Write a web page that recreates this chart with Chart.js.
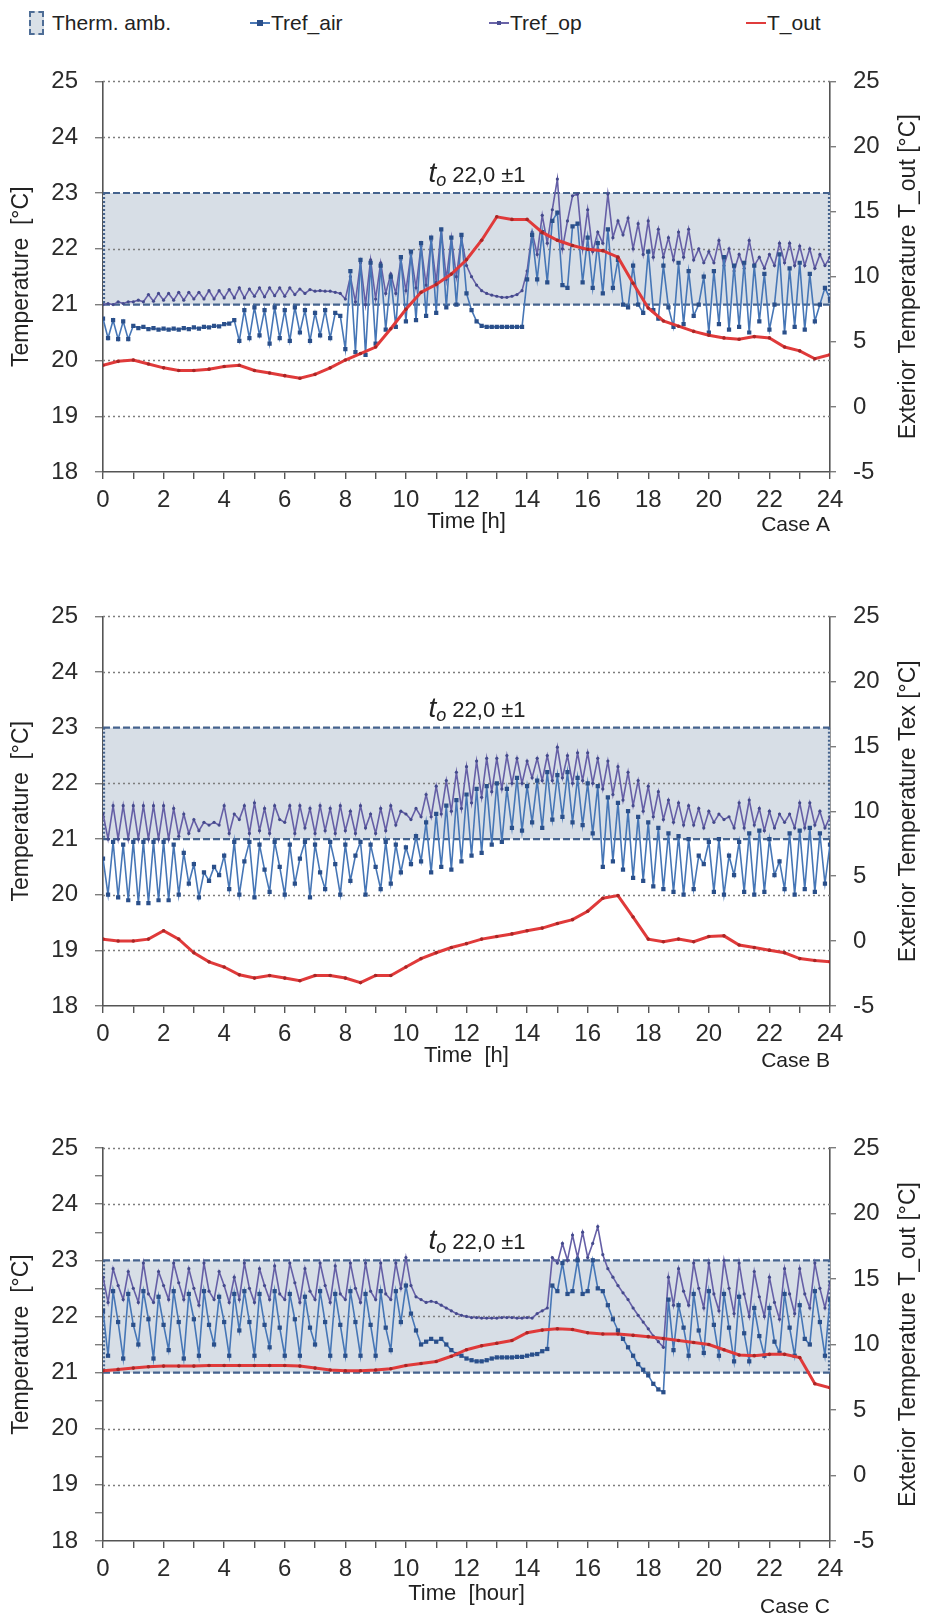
<!DOCTYPE html>
<html>
<head>
<meta charset="utf-8">
<script src="https://cdn.jsdelivr.net/npm/chart.js@4.4.1/dist/chart.umd.min.js"></script>
<style>
  html, body { margin: 0; padding: 0; background: #fff; }
  #page { position: relative; width: 925px; height: 1620px; overflow: hidden;
          font-family: "Liberation Sans", Arial, sans-serif; color: #222; }
  #page canvas { position: absolute; left: 0; }
  .leg-text { position: absolute; top: 10px; font-size: 21px; line-height: 26px; white-space: nowrap; }
  .leg-box { position: absolute; left: 29px; top: 11px; width: 11px; height: 20px;
             background: #d9e0e7; border: 2px dashed #4e6d96; }
  .leg-line { position: absolute; top: 22px; width: 20px; height: 2px; }
  .leg-mark { position: absolute; }
</style>
</head>
<body>
<div id="page">
  <div class="leg-box"></div>
  <div class="leg-text" style="left:52px">Therm. amb.</div>

  <div class="leg-line" style="left:250px;background:#4a78b5"></div>
  <div class="leg-mark" style="left:257px;top:20px;width:6px;height:6px;background:#2a4f8a"></div>
  <div class="leg-text" style="left:271px">Tref_air</div>

  <div class="leg-line" style="left:489px;background:#6a64a8"></div>
  <div class="leg-mark" style="left:497px;top:21px;width:4px;height:4px;background:#4b4f93"></div>
  <div class="leg-text" style="left:510px">Tref_op</div>

  <div class="leg-line" style="left:746px;background:#e03c3c"></div>
  <div class="leg-text" style="left:767px">T_out</div>

  <canvas id="chartA"></canvas>
  <canvas id="chartB"></canvas>
  <canvas id="chartC"></canvas>
</div>

<script>
// Tref series: one reading every 10 minutes (6 per hour, 0..24 h)
const STEP_H = 10 / 60;
// T_out: read every half hour
const OUT_STEP_H = 0.5;

// ---------- Case A ----------
const airA = [
  20.75, 20.4, 20.72, 20.38, 20.7, 20.38,
  20.62, 20.58, 20.6, 20.56, 20.58, 20.55,
  20.57, 20.55, 20.57, 20.55, 20.58, 20.56,
  20.59, 20.57, 20.6, 20.59, 20.62, 20.61,
  20.65, 20.66, 20.72, 20.35, 20.9, 20.4,
  20.95, 20.45, 20.9, 20.3, 20.95, 20.4,
  20.9, 20.35, 20.95, 20.5, 20.9, 20.35,
  20.85, 20.45, 20.9, 20.4, 20.85, 20.8,
  20.2, 21.6, 20.15, 21.8, 20.1, 21.75,
  20.3, 21.7, 20.55, 21.5, 20.6, 21.85,
  20.7, 21.95, 20.72, 22.1, 20.8, 22.2,
  20.85, 22.35, 20.95, 22.2, 21.0, 22.25,
  21.2, 20.9, 20.7, 20.62, 20.6, 20.6,
  20.6, 20.6, 20.6, 20.6, 20.6, 20.6,
  21.45, 22.25, 21.45, 22.3, 21.4, 22.5,
  22.65, 21.35, 21.3, 22.4, 22.45, 21.4,
  22.2, 21.3, 22.1, 21.2, 22.35, 21.3,
  21.8, 21.0, 20.95, 21.7, 21.0, 20.85,
  21.95, 20.9, 20.75, 21.7, 20.95, 20.6,
  21.75, 20.65, 21.6, 20.8, 21.0, 21.5,
  20.5, 21.6, 20.65, 21.85, 20.55, 21.7,
  20.6, 21.75, 20.5, 21.7, 20.7, 21.55,
  20.55, 21.0, 21.9, 20.5, 21.65, 20.6,
  21.75, 20.55, 21.55, 20.7, 21.0, 21.3,
  21.1
];
const opA = [
  21.0, 21.02, 21.0, 21.05, 21.02, 21.05,
  21.05, 21.08, 21.05, 21.18, 21.06, 21.2,
  21.08, 21.2, 21.08, 21.22, 21.08, 21.22,
  21.1, 21.22, 21.1, 21.25, 21.1, 21.25,
  21.12, 21.27, 21.12, 21.3, 21.12, 21.28,
  21.15, 21.3, 21.14, 21.3, 21.16, 21.3,
  21.15, 21.3, 21.18, 21.28, 21.2, 21.27,
  21.24, 21.25, 21.24, 21.24, 21.22, 21.2,
  21.1, 21.5, 21.05, 21.75, 21.0, 21.8,
  21.1, 21.75, 21.2, 21.55, 21.2, 21.8,
  21.25, 21.9, 21.3, 22.05, 21.35, 22.15,
  21.4, 22.35, 21.45, 22.2, 21.5, 22.2,
  21.7, 21.5, 21.35, 21.25, 21.2, 21.17,
  21.15, 21.13, 21.13, 21.15, 21.18, 21.25,
  21.6, 22.3, 21.9, 22.6, 22.1, 22.7,
  23.25, 22.0, 22.5, 22.95, 22.98, 22.0,
  22.7, 21.95, 22.3, 22.1, 22.98, 22.2,
  22.5, 22.25, 22.55, 22.0, 22.45, 21.9,
  22.5, 21.85, 22.35, 21.85, 22.2, 21.8,
  22.3, 21.85, 22.35, 21.8, 22.0, 21.75,
  21.95, 21.75, 22.15, 21.7, 22.0, 21.6,
  21.9, 21.65, 22.15, 21.7, 21.85, 21.65,
  21.9, 21.7, 22.1, 21.75, 22.1, 21.7,
  22.05, 21.7, 22.0, 21.65, 21.9, 21.7,
  21.85
];
const outA = [
  3.2, 3.5, 3.6, 3.3, 3.0, 2.8, 2.8, 2.9, 3.1, 3.2,
  2.8, 2.6, 2.4, 2.2, 2.5, 3.0, 3.6, 4.1, 4.6, 6.0,
  7.5, 8.8, 9.4, 10.2, 11.3, 12.8, 14.6, 14.4, 14.4, 13.4,
  12.8, 12.4, 12.1, 12.0, 11.5, 9.5, 7.6, 6.6, 6.2, 5.8,
  5.5, 5.3, 5.2, 5.4, 5.3, 4.6, 4.3, 3.7, 4.0
];

// ---------- Case B ----------
const airB = [
  20.65, 20.0, 20.95, 19.95, 20.9, 19.9,
  20.95, 19.85, 20.95, 19.85, 20.95, 19.9,
  20.95, 19.9, 20.9, 20.0, 20.75, 20.2,
  20.55, 19.95, 20.4, 20.25, 20.5, 20.35,
  20.7, 20.1, 20.95, 20.0, 20.6, 20.95,
  19.95, 20.9, 20.45, 20.05, 20.95, 20.5,
  20.0, 20.9, 20.2, 20.65, 20.95, 19.95,
  20.9, 20.4, 20.1, 20.95, 20.55, 20.0,
  20.9, 20.25, 20.7, 20.95, 20.0, 20.9,
  20.5, 20.1, 20.95, 20.2, 20.9, 20.4,
  20.85, 20.55, 21.05, 20.6, 21.3, 20.4,
  21.45, 20.5, 21.6, 20.45, 21.7, 20.6,
  21.8, 20.7, 21.9, 20.75, 21.95, 20.9,
  22.0, 20.95, 21.9, 21.2, 22.1, 21.15,
  21.95, 21.3, 22.05, 21.2, 22.2, 21.35,
  22.15, 21.4, 22.2, 21.3, 22.1, 21.25,
  22.0, 21.1, 21.95, 20.5, 21.75, 20.6,
  21.65, 20.45, 21.5, 20.3, 21.4, 20.25,
  21.3, 20.15, 21.2, 20.1, 21.1, 20.05,
  21.05, 20.0, 21.0, 20.1, 20.7, 20.55,
  20.95, 20.05, 21.0, 20.0, 20.7, 20.35,
  20.95, 20.05, 21.1, 20.0, 21.15, 20.05,
  21.0, 20.35, 20.6, 20.1, 21.1, 20.0,
  21.15, 20.1, 21.2, 20.05, 21.1, 20.2,
  20.9
];
const opB = [
  21.45, 21.0, 21.6, 21.0, 21.6, 21.0,
  21.6, 21.0, 21.6, 21.0, 21.6, 21.0,
  21.6, 21.0, 21.55, 21.05, 21.45, 21.1,
  21.35, 21.15, 21.3, 21.25, 21.3, 21.25,
  21.6, 21.1, 21.45, 21.35, 21.6, 21.1,
  21.65, 21.15, 21.55, 21.1, 21.6, 21.35,
  21.3, 21.6, 21.1, 21.6, 21.2, 21.55,
  21.1, 21.6, 21.15, 21.55, 21.1, 21.6,
  21.15, 21.5, 21.1, 21.6, 21.2, 21.45,
  21.1, 21.55, 21.15, 21.6, 21.25, 21.5,
  21.45, 21.35, 21.55, 21.4, 21.8, 21.4,
  21.95, 21.45, 22.05, 21.5, 22.2, 21.55,
  22.3, 21.65, 22.4, 21.75, 22.45, 21.85,
  22.45, 21.9, 22.5, 22.0, 22.45, 22.0,
  22.4, 22.1, 22.45, 22.05, 22.5, 22.05,
  22.65, 22.1, 22.5, 22.0, 22.55, 22.05,
  22.55, 22.0, 22.45, 21.9, 22.4, 21.8,
  22.3, 21.7, 22.2, 21.6, 22.05, 21.5,
  21.95, 21.4, 21.85, 21.35, 21.7, 21.3,
  21.65, 21.25, 21.6, 21.25, 21.55, 21.2,
  21.5, 21.3, 21.45, 21.35, 21.4, 21.2,
  21.65, 21.2, 21.7, 21.25, 21.55, 21.15,
  21.5, 21.2, 21.45, 21.3, 21.45, 21.2,
  21.65, 21.2, 21.65, 21.25, 21.5, 21.2,
  21.4
];
const outB = [
  0.15, 0.0, 0.0, 0.15, 0.8, 0.15, -0.9, -1.6, -2.0, -2.6,
  -2.85, -2.65, -2.85, -3.05, -2.65, -2.65, -2.85, -3.2, -2.65, -2.65,
  -2.0, -1.35, -0.9, -0.5, -0.2, 0.15, 0.35, 0.55, 0.8, 1.0,
  1.35, 1.65, 2.3, 3.3, 3.5, 1.85, 0.15, -0.05, 0.15, -0.05,
  0.35, 0.4, -0.3, -0.5, -0.7, -0.9, -1.35, -1.5, -1.6
];

// ---------- Case C ----------
const airC = [
  22.1, 21.3, 22.45, 21.9, 21.25, 22.4,
  21.85, 21.5, 22.45, 21.95, 21.25, 22.35,
  21.85, 21.4, 22.45, 21.9, 21.25, 22.4,
  21.95, 21.3, 22.45, 21.85, 21.5, 22.35,
  21.9, 21.3, 22.4, 21.75, 22.45, 21.9,
  21.3, 22.4, 21.85, 21.45, 22.45, 21.8,
  21.3, 22.4, 21.95, 21.3, 22.35, 21.8,
  21.5, 22.45, 21.9, 21.3, 22.4, 21.85,
  21.3, 22.45, 21.9, 21.3, 22.4, 21.85,
  21.3, 22.45, 21.8, 21.4, 22.45, 21.9,
  22.55, 22.05, 21.75, 21.5, 21.55, 21.6,
  21.55, 21.6, 21.5, 21.4, 21.33, 21.3,
  21.25, 21.22, 21.2, 21.2, 21.22, 21.25,
  21.27, 21.27, 21.27, 21.27, 21.28, 21.28,
  21.3, 21.32, 21.33, 21.38, 21.42, 22.55,
  22.45, 22.95, 22.4, 22.45, 23.0, 22.4,
  22.45, 23.0, 22.5, 22.45, 22.2, 21.95,
  21.75, 21.6, 21.45, 21.3, 21.15, 21.05,
  20.95, 20.8, 20.7, 20.65, 22.3, 21.4,
  22.2, 21.8, 21.3, 22.4, 21.75, 21.35,
  22.45, 21.85, 21.3, 22.4, 21.8, 21.2,
  22.35, 21.7, 21.2, 22.15, 21.65, 21.3,
  22.15, 21.55, 21.35, 22.4, 21.8, 21.3,
  22.2, 21.6, 21.5, 22.45, 21.9, 21.3,
  22.3
];
const opC = [
  22.7, 22.25, 22.85, 22.55, 22.3, 22.8,
  22.5, 22.25, 22.95, 22.4, 22.25, 22.8,
  22.55, 22.3, 22.95, 22.6, 22.3, 22.85,
  22.5, 22.2, 22.95, 22.45, 22.3, 22.8,
  22.55, 22.25, 22.7, 22.3, 22.95, 22.5,
  22.25, 22.85, 22.55, 22.3, 22.9, 22.4,
  22.3, 22.95, 22.6, 22.25, 22.85, 22.45,
  22.3, 22.95, 22.55, 22.25, 22.9, 22.4,
  22.3, 22.95, 22.5, 22.25, 22.95, 22.45,
  22.3, 22.95, 22.4, 22.3, 22.95, 22.5,
  23.05, 22.55, 22.35, 22.3, 22.25, 22.27,
  22.25, 22.2, 22.15, 22.1, 22.05, 22.02,
  22.0, 21.98, 21.98, 21.97, 21.97, 21.97,
  21.97, 21.98, 21.98, 21.98, 21.97, 21.97,
  21.98, 21.97, 22.05, 22.1, 22.15, 23.05,
  22.95, 23.3, 23.0, 23.45, 23.05, 23.5,
  23.05, 23.3, 23.6, 23.1, 22.85, 22.7,
  22.55, 22.42, 22.3, 22.15, 22.02, 21.9,
  21.78, 21.65, 21.55, 21.45, 22.7, 22.2,
  22.85, 22.45, 22.2, 22.95, 22.5, 22.15,
  22.95, 22.4, 22.1, 23.0, 22.5, 22.05,
  22.95, 22.4, 22.0, 22.8, 22.35, 22.0,
  22.7, 22.25, 21.95, 22.85, 22.4, 22.05,
  22.85, 22.4, 22.15, 22.95, 22.5, 22.15,
  22.6
];
const outC = [
  8.0, 8.1, 8.2, 8.3, 8.35, 8.35, 8.35, 8.4, 8.4, 8.4,
  8.4, 8.4, 8.4, 8.35, 8.2, 8.05, 8.0, 8.0, 8.05, 8.15,
  8.4, 8.55, 8.7, 9.1, 9.6, 9.9, 10.1, 10.3, 10.9, 11.1,
  11.2, 11.15, 10.9, 10.8, 10.8, 10.7, 10.6, 10.45, 10.3, 10.15,
  10.0, 9.6, 9.2, 9.15, 9.25, 9.25, 9.0, 7.0, 6.7
];

// comfort band and axis ranges
const bandLow = 21, bandHigh = 23;
const gridLevels = [19, 20, 22, 24, 25];
const rightMin = -5, rightMax = 25;
const bandLabel = "22,0 ±1";

const FONT = '"Liberation Sans", Arial, sans-serif';
const TICK_COLOR = "#2b2b2b";
const AXIS_COLOR = "#555";

function series(values, step) {
  return values.map((v, i) => ({ x: i * step, y: v }));
}

// comfort band + dotted grid, under the lines
const bandPlugin = {
  id: "bandPlugin",
  beforeDatasetsDraw(chart) {
    const { ctx, chartArea: a, scales } = chart;
    const yTop = scales.y.getPixelForValue(bandHigh);
    const yBot = scales.y.getPixelForValue(bandLow);
    ctx.save();
    ctx.fillStyle = "#d7dee6";
    ctx.fillRect(a.left, yTop, a.right - a.left, yBot - yTop);

    ctx.strokeStyle = "#7d7d7d";
    ctx.lineWidth = 1.5;
    ctx.setLineDash([2, 3]);
    gridLevels.forEach((t) => {
      const y = Math.round(scales.y.getPixelForValue(t)) + 0.5;
      ctx.beginPath();
      ctx.moveTo(a.left, y);
      ctx.lineTo(a.right, y);
      ctx.stroke();
    });

    ctx.strokeStyle = "#45638e";
    ctx.lineWidth = 2.2;
    ctx.setLineDash([7, 3]);
    [yTop, yBot].forEach((y) => {
      ctx.beginPath();
      ctx.moveTo(a.left, y);
      ctx.lineTo(a.right, y);
      ctx.stroke();
    });
    ctx.setLineDash([2, 2]);
    [a.left + 1, a.right - 1].forEach((x) => {
      ctx.beginPath();
      ctx.moveTo(x, yTop);
      ctx.lineTo(x, yBot);
      ctx.stroke();
    });
    ctx.restore();
  },
};

// axis titles, case label and band note
const textPlugin = {
  id: "frameText",
  afterDraw(chart, args, opts) {
    const { ctx, chartArea: a, scales } = chart;
    const mid = (a.top + a.bottom) / 2;
    ctx.save();
    ctx.fillStyle = "#222";
    ctx.textBaseline = "middle";
    ctx.textAlign = "center";
    ctx.font = `23px ${FONT}`;

    ctx.save();
    ctx.translate(22, mid);
    ctx.rotate(-Math.PI / 2);
    ctx.fillText("Temperature  [°C]", 0, 0);
    ctx.restore();

    ctx.save();
    ctx.translate(909, mid);
    ctx.rotate(-Math.PI / 2);
    ctx.fillText(opts.rightTitle, 0, 0);
    ctx.restore();

    ctx.font = `22px ${FONT}`;
    ctx.fillText(opts.xTitle, (a.left + a.right) / 2, a.bottom + opts.xTitleGap);
    ctx.textAlign = "right";
    ctx.font = `21px ${FONT}`;
    ctx.fillText(opts.caseLabel, a.right, a.bottom + opts.caseGap);

    // "t_o 22,0 ±1" just above the band
    const yNote = scales.y.getPixelForValue(bandHigh + 0.32);
    ctx.textAlign = "left";
    ctx.font = `italic 28px ${FONT}`;
    const wT = ctx.measureText("t").width;
    ctx.font = `italic 18px ${FONT}`;
    const wO = ctx.measureText("o").width;
    ctx.font = `22px ${FONT}`;
    const wRest = ctx.measureText(" " + bandLabel).width;
    let x = 477 - (wT + wO + wRest) / 2;
    ctx.font = `italic 28px ${FONT}`;
    ctx.fillText("t", x, yNote - 1);
    x += wT;
    ctx.font = `italic 18px ${FONT}`;
    ctx.fillText("o", x, yNote + 6);
    x += wO;
    ctx.font = `22px ${FONT}`;
    ctx.fillText(" " + bandLabel, x, yNote + 1);
    ctx.restore();
  },
};

function makeChart(cfg) {
  const canvas = document.getElementById(cfg.id);
  canvas.width = 925;
  canvas.height = cfg.height;
  canvas.style.top = cfg.top + "px";
  canvas.style.width = "925px";
  canvas.style.height = cfg.height + "px";

  const tickFont = { family: FONT, size: 24 };

  return new Chart(canvas.getContext("2d"), {
    type: "line",
    data: {
      datasets: [
        {
          label: "T_out",
          data: series(cfg.out, OUT_STEP_H),
          yAxisID: "y1",
          borderColor: "#e03a3a",
          borderWidth: 3,
          pointRadius: 1.8,
          pointBackgroundColor: "#a82626",
          pointBorderWidth: 0,
          tension: 0,
        },
        {
          label: "Tref_air",
          data: series(cfg.air, STEP_H),
          yAxisID: "y",
          borderColor: "#4676b6",
          borderWidth: 1.6,
          pointStyle: "rect",
          pointRadius: 3,
          pointBackgroundColor: "#2a4f8a",
          pointBorderWidth: 0,
          tension: 0,
        },
        {
          label: "Tref_op",
          data: series(cfg.op, STEP_H),
          yAxisID: "y",
          borderColor: "#655fa6",
          borderWidth: 1.6,
          pointRadius: 1.6,
          pointBackgroundColor: "#444a8c",
          pointBorderWidth: 0,
          tension: 0,
        },
      ],
    },
    plugins: [bandPlugin, textPlugin],
    options: {
      responsive: false,
      animation: false,
      devicePixelRatio: 1,
      events: [],
      layout: { padding: { top: cfg.plotTop, left: 0, right: 0, bottom: 0 } },
      plugins: {
        legend: { display: false },
        tooltip: { enabled: false },
        frameText: {
          rightTitle: cfg.rightTitle,
          xTitle: cfg.xTitle,
          caseLabel: cfg.caseLabel,
          xTitleGap: cfg.xTitleGap,
          caseGap: cfg.caseGap,
        },
      },
      scales: {
        x: {
          type: "linear",
          min: 0,
          max: 24,
          afterFit(s) { s.height = cfg.height - cfg.plotBottom; },
          ticks: {
            stepSize: 1,
            autoSkip: false,
            maxRotation: 0,
            padding: 7,
            color: TICK_COLOR,
            font: tickFont,
            callback: (v) => (v % 2 === 0 ? String(v) : ""),
          },
          grid: { drawOnChartArea: false, drawTicks: true, tickLength: 7, color: AXIS_COLOR, lineWidth: 1.4 },
          border: { display: true, color: AXIS_COLOR, width: 1.6 },
        },
        y: {
          position: "left",
          min: 18,
          max: 25,
          afterFit(s) { s.width = 103; },
          ticks: {
            stepSize: cfg.halfTicks ? 0.5 : 1,
            autoSkip: false,
            padding: 17,
            color: TICK_COLOR,
            font: tickFont,
            callback: (v) => (Number.isInteger(v) ? String(v) : ""),
          },
          grid: { drawOnChartArea: false, drawTicks: true, tickLength: 8, color: "#7d7d7d", lineWidth: 1.4 },
          border: { display: true, color: AXIS_COLOR, width: 1.6 },
        },
        y1: {
          position: "right",
          min: rightMin,
          max: rightMax,
          afterFit(s) { s.width = 95; },
          ticks: { stepSize: 5, padding: 17, color: TICK_COLOR, font: tickFont },
          grid: { drawOnChartArea: false, drawTicks: true, tickLength: 6, color: "#7d7d7d", lineWidth: 1.4 },
          border: { display: true, color: AXIS_COLOR, width: 1.6 },
        },
      },
    },
  });
}

makeChart({
  id: "chartA", top: 50, height: 510, plotTop: 30, plotBottom: 422,
  air: airA, op: opA, out: outA,
  rightTitle: "Exterior Temperature T_out [°C]", xTitle: "Time [h]", caseLabel: "Case A",
  xTitleGap: 50, caseGap: 53,
});
makeChart({
  id: "chartB", top: 585, height: 510, plotTop: 31, plotBottom: 421,
  air: airB, op: opB, out: outB,
  rightTitle: "Exterior Temperature Tex [°C]", xTitle: "Time  [h]", caseLabel: "Case B",
  xTitleGap: 50, caseGap: 55,
});
makeChart({
  id: "chartC", top: 1115, height: 505, plotTop: 33, plotBottom: 426,
  air: airC, op: opC, out: outC, halfTicks: true,
  rightTitle: "Exterior Temperature T_out [°C]", xTitle: "Time  [hour]", caseLabel: "Case C",
  xTitleGap: 53, caseGap: 66,
});
</script>
</body>
</html>
